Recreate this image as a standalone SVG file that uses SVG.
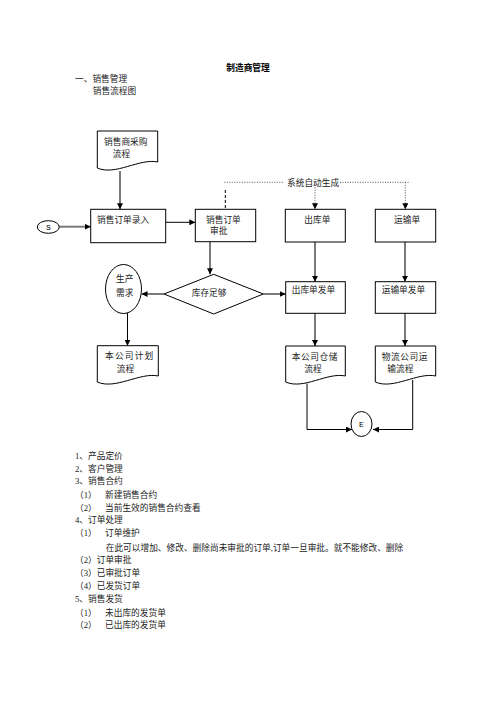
<svg xmlns="http://www.w3.org/2000/svg" width="496" height="702" viewBox="0 0 496 702">
<defs>
<style>
.t{font-family:"Liberation Serif","Noto Sans CJK SC",serif;font-size:8.7px;fill:#222}
.m{font-family:"Liberation Mono","Noto Sans CJK SC",monospace;font-size:8px;fill:#000}
.box{fill:#fff;stroke:#000;stroke-width:1}
.g{stroke:#7a7a7a;stroke-width:2;fill:none}
.k{stroke:#000;stroke-width:1;fill:none}
.dot{stroke:#555;stroke-width:1;fill:none;stroke-dasharray:1 1.5}
.dash{stroke:#000;stroke-width:1;fill:none;stroke-dasharray:3 2}
</style>
<marker id="ah" viewBox="0 0 6 6" refX="6" refY="3" markerWidth="6" markerHeight="6" markerUnits="userSpaceOnUse" orient="auto">
<path d="M0,0 L6,3 L0,6 z" fill="#000"/>
</marker>
</defs>
<rect width="496" height="702" fill="#fff"/>

<text class="t" x="248" y="71" text-anchor="middle" font-weight="bold" style="fill:#000">制造商管理</text>
<text class="t" x="75" y="82.3">一、销售管理</text>
<text class="t" x="92.7" y="94">销售流程图</text>

<g id="connectors">
<line class="g" x1="120" y1="171" x2="120" y2="209.3" marker-end="url(#ah)"/>
<line class="g" x1="59.3" y1="226.7" x2="90.7" y2="226.7" marker-end="url(#ah)"/>
<line class="k" x1="165.7" y1="222.3" x2="195.3" y2="222.3" marker-end="url(#ah)"/>
<line class="g" x1="210" y1="242" x2="210" y2="274.3" marker-end="url(#ah)"/>
<line class="g" x1="164" y1="294" x2="141.5" y2="294" marker-end="url(#ah)"/>
<line class="g" x1="263.3" y1="294" x2="285.7" y2="294" marker-end="url(#ah)"/>
<line class="k" x1="127.5" y1="313" x2="127.5" y2="345.7" marker-end="url(#ah)"/>
<line class="g" x1="315" y1="242" x2="315" y2="281.7" marker-end="url(#ah)"/>
<line class="g" x1="405" y1="242" x2="405" y2="281.7" marker-end="url(#ah)"/>
<line class="g" x1="315" y1="313.3" x2="315" y2="346" marker-end="url(#ah)"/>
<line class="g" x1="405" y1="313.3" x2="405" y2="346" marker-end="url(#ah)"/>
<polyline class="k" points="307,383.5 307,429.5 352,429.5" marker-end="url(#ah)"/>
<polyline class="k" points="412.7,380 412.7,429.5 373,429.5" marker-end="url(#ah)"/>
<line class="dash" x1="225.3" y1="190" x2="225.3" y2="209"/>
<line class="dot" x1="224.3" y1="182.3" x2="283" y2="182.3"/>
<line class="dot" x1="340" y1="182.3" x2="410" y2="182.3"/>
<line class="dot" x1="315" y1="182.3" x2="315" y2="209.3" marker-end="url(#ah)"/>
<line class="dot" x1="405.3" y1="182.3" x2="405.3" y2="209.3" marker-end="url(#ah)"/>
<text class="t" x="287" y="185.6">系统自动生成</text>
</g>

<g id="n_purchase">
<path class="box" d="M97.3,131 H157.7 V162 C139.6,158 115.4,176 97.3,168 Z"/>
<text class="t" x="104" y="145">销售商采购</text>
<text class="t" x="112.7" y="156.6">流程</text>
</g>

<g id="n_S">
<ellipse class="box" cx="48.3" cy="227" rx="11" ry="6.3"/>
<text class="m" x="48.3" y="229.8" text-anchor="middle">S</text>
</g>

<g id="n_entry">
<rect class="box" x="90.7" y="209.3" width="75" height="33.4"/>
<text class="t" x="97" y="222.6">销售订单录入</text>
</g>

<g id="n_approve">
<rect class="box" x="195.3" y="209.3" width="60.4" height="32.4"/>
<text class="t" x="206" y="222.6">销售订单</text>
<text class="t" x="210" y="234.3">审批</text>
</g>

<g id="n_outbound">
<rect class="box" x="285.3" y="209.3" width="60" height="32.7"/>
<text class="t" x="304.3" y="222.6">出库单</text>
</g>

<g id="n_transport">
<rect class="box" x="375.3" y="209.3" width="60.4" height="32.7"/>
<text class="t" x="394" y="222.6">运输单</text>
</g>

<g id="n_stock">
<polygon class="box" points="164,294 213.7,274.3 263.3,294 213.7,314"/>
<text class="t" x="191.7" y="296">库存足够</text>
</g>

<g id="n_prod">
<ellipse class="box" cx="123.5" cy="289" rx="18" ry="24.5"/>
<text class="t" x="116" y="281.6">生产</text>
<text class="t" x="116" y="295.6">需求</text>
</g>

<g id="n_outslip">
<rect class="box" x="285.7" y="281.7" width="59.6" height="31.6"/>
<text class="t" x="291.7" y="293.3">出库单发单</text>
</g>

<g id="n_transslip">
<rect class="box" x="375.3" y="281.7" width="60.4" height="31.6"/>
<text class="t" x="381.7" y="293.3">运输单发单</text>
</g>

<g id="n_plan">
<path class="box" d="M97.3,345.7 H158.3 V376 C140,372 115.6,390 97.3,382 Z"/>
<text class="t" x="105" y="358.6" letter-spacing="1.2">本公司计划</text>
<text class="t" x="116.7" y="371.6">流程</text>
</g>

<g id="n_storage">
<path class="box" d="M285.7,346 H345.3 V376 C327.4,372 303.6,390 285.7,382 Z"/>
<text class="t" x="291.7" y="360" letter-spacing="0.6">本公司仓储</text>
<text class="t" x="304.3" y="372.3">流程</text>
</g>

<g id="n_logistics">
<path class="box" d="M375.3,346 H435.7 V376 C417.6,372 393.4,390 375.3,382 Z"/>
<text class="t" x="381.7" y="360" letter-spacing="0.6">物流公司运</text>
<text class="t" x="387.3" y="372.3">输流程</text>
</g>

<g id="n_E">
<ellipse class="box" cx="361.5" cy="424" rx="10.5" ry="12.5"/>
<text class="m" x="361.5" y="426.8" text-anchor="middle">E</text>
</g>

<g id="list">
<text class="t" x="75" y="459.3">1、产品定价</text>
<text class="t" x="75" y="472.3">2、客户管理</text>
<text class="t" x="75" y="484.3">3、销售合约</text>
<text class="t" x="75" y="498.3">（1）</text><text class="t" x="105" y="498.3">新建销售合约</text>
<text class="t" x="75" y="511">（2）</text><text class="t" x="105" y="511">当前生效的销售合约查看</text>
<text class="t" x="75" y="523.3">4、订单处理</text>
<text class="t" x="75" y="535.6">（1）</text><text class="t" x="105" y="535.6">订单维护</text>
<text class="t" x="105.7" y="551">在此可以增加、修改、删除尚未审批的订单,订单一旦审批。就不能修改、删除</text>
<text class="t" x="75" y="562.6">（2）订单审批</text>
<text class="t" x="75" y="576">（3）已审批订单</text>
<text class="t" x="75" y="589.3">（4）已发货订单</text>
<text class="t" x="75" y="602">5、销售发货</text>
<text class="t" x="75" y="615.6">（1）</text><text class="t" x="105" y="615.6">未出库的发货单</text>
<text class="t" x="75" y="627.6">（2）</text><text class="t" x="105" y="627.6">已出库的发货单</text>
</g>
</svg>
